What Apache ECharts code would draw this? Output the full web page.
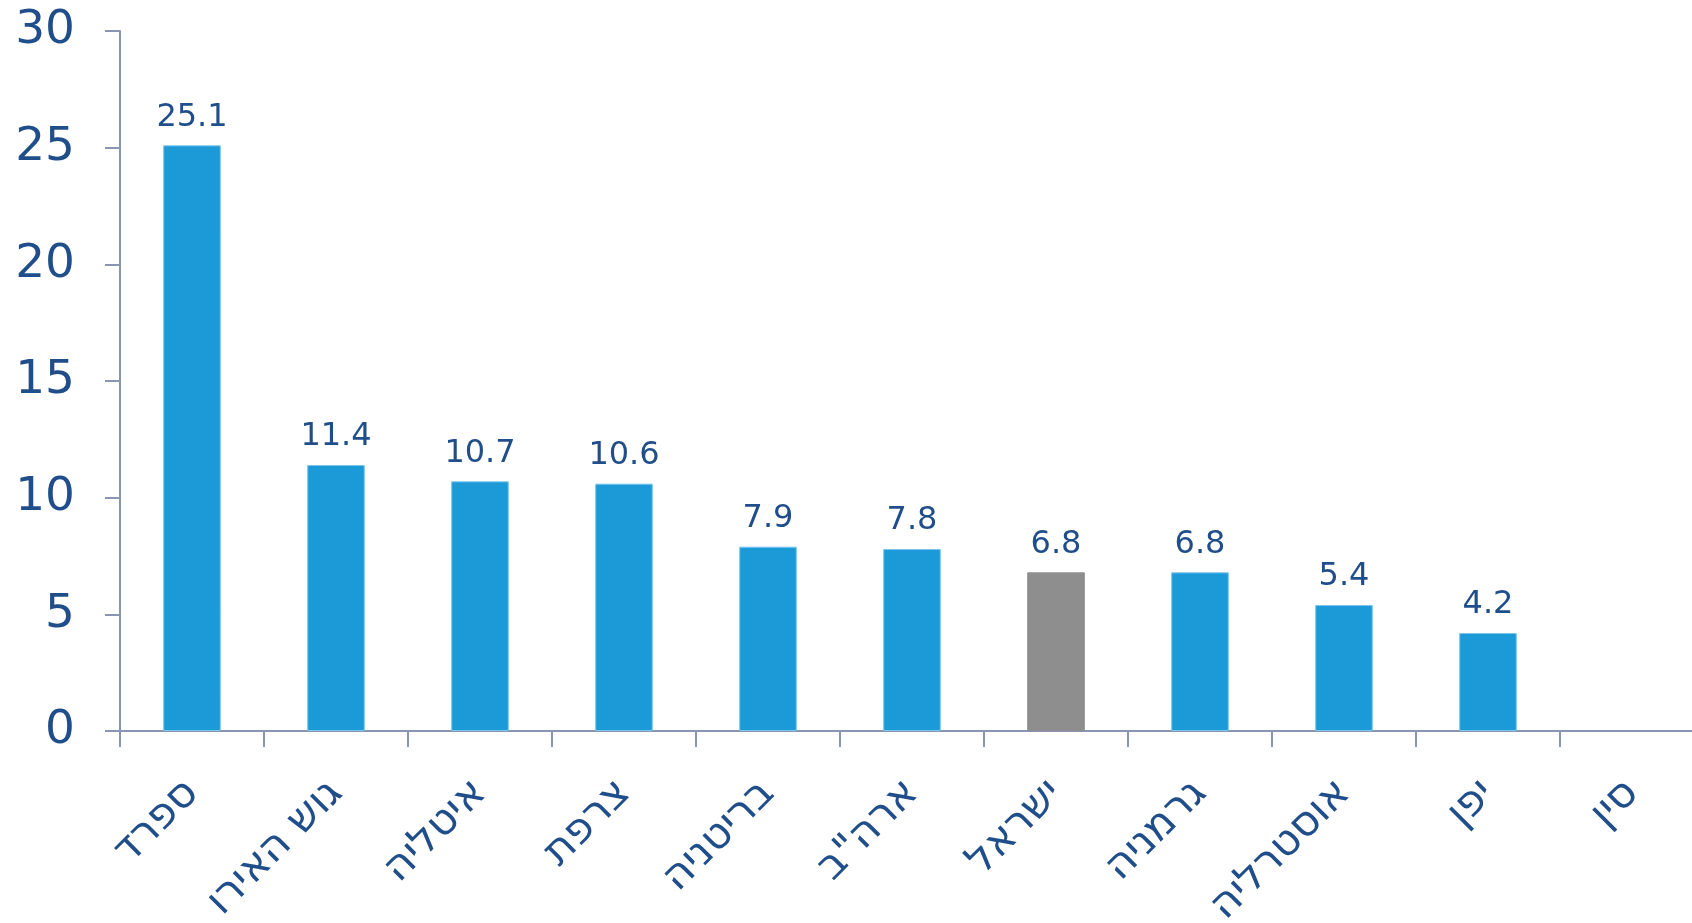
<!DOCTYPE html>
<html lang="he">
<head>
<meta charset="utf-8">
<title>שיעור אבטלה — השוואה בין-לאומית</title>
<script src="https://cdn.jsdelivr.net/npm/echarts@6/dist/echarts.min.js"></script>
<style>
  html, body { margin: 0; padding: 0; background: #ffffff; }
  #chart { width: 1692px; height: 923px; }
</style>
</head>
<body>
<div id="chart"></div>
<script>
// Countries, in the order they are plotted left to right
const categories = ['ספרד', 'גוש האירו', 'איטליה', 'צרפת', 'בריטניה', 'ארה"ב', 'ישראל', 'גרמניה', 'אוסטרליה', 'יפן', 'סין'];
// Value per country
const values = [25.1, 11.4, 10.7, 10.6, 7.9, 7.8, 6.8, 6.8, 5.4, 4.2, -3.0];
// Country drawn in the contrasting colour
const highlighted = ['ישראל'];
// Value-axis range and step
const yMin = 0;
const yMax = 30;
const yStep = 5;

const BLUE = '#1c9ad8';
const GREY = '#8e8e8e';
const TEXT = '#1f4e8a';
const AXIS = '#8a95b0';
const FONT = '"DejaVu Sans", Verdana, sans-serif';

const chart = echarts.init(document.getElementById('chart'), null, { renderer: 'canvas' });

const barData = values.map((v, i) => {
  const isHi = highlighted.includes(categories[i]);
  return {
    value: v,
    itemStyle: {
      color: isHi ? GREY : BLUE,
      borderColor: isHi ? GREY : '#7cc6ee',
      borderWidth: 1
    }
  };
});

chart.setOption({
  animation: false,
  backgroundColor: '#ffffff',
  grid: {
    left: 120,
    top: 31,
    width: 1584,
    height: 700,
    outerBoundsMode: 'none'
  },
  xAxis: {
    type: 'category',
    data: categories,
    axisLine: { show: true, lineStyle: { color: AXIS, width: 2 } },
    axisTick: { show: true, length: 16, lineStyle: { color: AXIS, width: 2 } },
    axisLabel: {
      rotate: 45,
      interval: 0,
      margin: 56,
      color: TEXT,
      fontFamily: FONT,
      fontSize: 42
    }
  },
  yAxis: {
    type: 'value',
    min: yMin,
    max: yMax,
    interval: yStep,
    splitLine: { show: false },
    axisLine: { show: true, lineStyle: { color: AXIS, width: 2 } },
    axisTick: { show: true, length: 15, lineStyle: { color: AXIS, width: 2 } },
    axisLabel: {
      margin: 45,
      color: TEXT,
      fontFamily: FONT,
      fontSize: 47
    }
  },
  series: [{
    type: 'bar',
    data: barData,
    barWidth: '40%',
    label: {
      show: true,
      position: 'top',
      distance: 12,
      color: TEXT,
      fontFamily: FONT,
      fontSize: 32,
      formatter: p => p.value.toFixed(1)
    }
  }]
});
</script>
</body>
</html>
